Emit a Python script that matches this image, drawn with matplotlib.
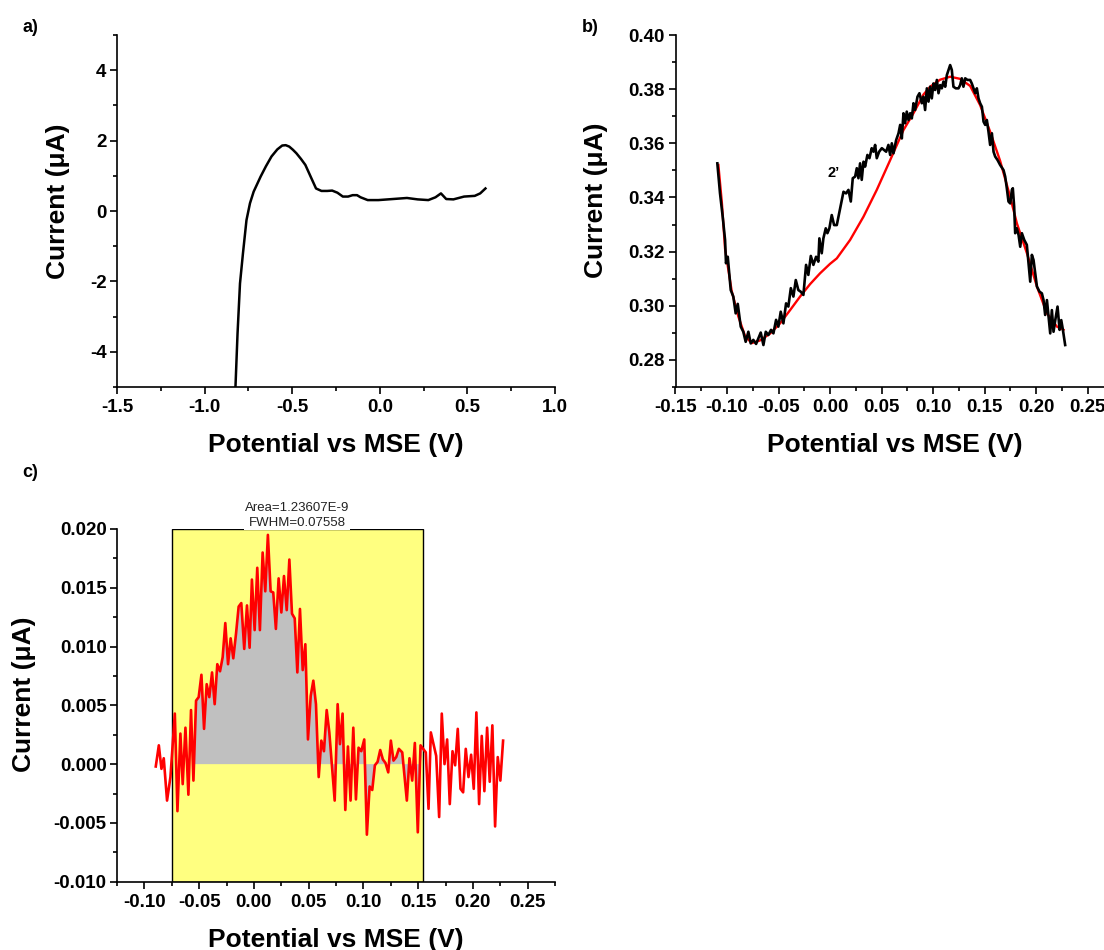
import matplotlib
matplotlib.use("Agg")
import matplotlib.pyplot as plt
from matplotlib.ticker import MultipleLocator, FormatStrFormatter

plt.rcParams['font.family'] = ['Liberation Sans', 'DejaVu Sans']
plt.rcParams['axes.unicode_minus'] = False

# ---------------- data ----------------
# a) full sweep
a_potential = [-0.824, -0.812, -0.798, -0.781, -0.761, -0.741, -0.720, -0.680, -0.650,
               -0.618, -0.585, -0.557, -0.537, -0.517, -0.496, -0.476, -0.450, -0.425,
               -0.395, -0.364, -0.333, -0.300, -0.272, -0.242, -0.211, -0.181, -0.155,
               -0.130, -0.110, -0.069, -0.008, 0.074, 0.155, 0.216, 0.277, 0.318, 0.349,
               0.379, 0.420, 0.481, 0.542, 0.573, 0.603]
a_current = [-5.02, -3.48, -2.06, -1.20, -0.26, 0.22, 0.55, 0.98, 1.27,
             1.55, 1.75, 1.86, 1.87, 1.83, 1.74, 1.64, 1.48, 1.31,
             0.98, 0.64, 0.57, 0.57, 0.58, 0.52, 0.41, 0.41, 0.45,
             0.45, 0.39, 0.31, 0.31, 0.34, 0.37, 0.33, 0.31, 0.39, 0.50,
             0.34, 0.33, 0.41, 0.43, 0.50, 0.64]

# b) measured peak 2' and its baseline fit
b_potential = [-0.1094, -0.1068, -0.1042, -0.1019, -0.1010, -0.0993, -0.0964, -0.0939,
               -0.0916, -0.0896, -0.0867, -0.0842, -0.0819, -0.0793, -0.0770, -0.0745,
               -0.0718, -0.0696, -0.0673, -0.0647, -0.0624, -0.0599, -0.0573, -0.0550,
               -0.0524, -0.0502, -0.0479, -0.0453, -0.0427, -0.0405, -0.0381, -0.0356,
               -0.0333, -0.0308, -0.0285, -0.0259, -0.0233, -0.0211, -0.0187, -0.0162,
               -0.0136, -0.0114, -0.0104,
               -0.0081, -0.0065, -0.0042, -0.0026, -0.0007, 0.0016, 0.0039, 0.0065,
               0.0091, 0.0113, 0.0130, 0.0155, 0.0178, 0.0201, 0.0220, 0.0243, 0.0259,
               0.0275, 0.0291, 0.0307, 0.0324, 0.0340, 0.0362, 0.0382, 0.0404, 0.0421,
               0.0437, 0.0453, 0.0476, 0.0502, 0.0524, 0.0544, 0.0566, 0.0583, 0.0599,
               0.0615, 0.0641, 0.0664, 0.0680, 0.0696, 0.0712, 0.0728, 0.0744, 0.0761,
               0.0777, 0.0793, 0.0809, 0.0825, 0.0848, 0.0867,
               0.0890, 0.0906, 0.0922, 0.0939, 0.0955, 0.0971, 0.0987, 0.1003, 0.1019,
               0.1036, 0.1052, 0.1068, 0.1084, 0.1100, 0.1117, 0.1133, 0.1149, 0.1165,
               0.1181, 0.1197, 0.1220, 0.1246, 0.1262, 0.1278, 0.1294, 0.1311, 0.1333,
               0.1359, 0.1375, 0.1392, 0.1408, 0.1424, 0.1440, 0.1456, 0.1473, 0.1489,
               0.1505, 0.1521, 0.1537, 0.1553, 0.1570, 0.1586, 0.1602, 0.1625, 0.1650,
               0.1683, 0.1699, 0.1715, 0.1731,
               0.1748, 0.1764, 0.1773, 0.1786, 0.1796, 0.1812, 0.1829, 0.1845, 0.1861,
               0.1884, 0.1909, 0.1926, 0.1942, 0.1958, 0.1974, 0.1990, 0.2007, 0.2032,
               0.2055, 0.2071, 0.2087, 0.2104, 0.2120, 0.2136, 0.2152, 0.2168, 0.2185,
               0.2207, 0.2227, 0.2243, 0.2259, 0.2281]
b_current = [0.3526, 0.3415, 0.3329, 0.3243, 0.3157, 0.3181, 0.3058, 0.3034,
             0.2972, 0.3007, 0.2923, 0.2904, 0.2867, 0.2904, 0.2861, 0.2874,
             0.2859, 0.2880, 0.2901, 0.2855, 0.2904, 0.2892, 0.2911, 0.2898,
             0.2948, 0.2923, 0.2978, 0.2935, 0.3009, 0.2997, 0.3065, 0.3034,
             0.3095, 0.3058, 0.3052, 0.3040, 0.3151, 0.3114, 0.3184, 0.3151,
             0.3181, 0.3163, 0.3249,
             0.3194, 0.3249, 0.3286, 0.3268, 0.3286, 0.3335, 0.3298, 0.3298,
             0.3348, 0.3391, 0.3421, 0.3415, 0.3428, 0.3385, 0.3471, 0.3477, 0.3508,
             0.3471, 0.3526, 0.3465, 0.3532, 0.3514, 0.3557, 0.3545, 0.3582, 0.3569,
             0.3594, 0.3545, 0.3569, 0.3582, 0.3575, 0.3569, 0.3594, 0.3557, 0.3600,
             0.3563, 0.3612, 0.3637, 0.3668, 0.3618, 0.3711, 0.3674, 0.3717, 0.3686,
             0.3711, 0.3692, 0.3748, 0.3723, 0.3772, 0.3785,
             0.3748, 0.3772, 0.3723, 0.3803, 0.3754, 0.3809, 0.3766, 0.3821, 0.3797,
             0.3834, 0.3785, 0.3815, 0.3803, 0.3828, 0.3809, 0.3852, 0.3871, 0.3889,
             0.3871, 0.3809, 0.3803, 0.3803, 0.3815, 0.3840, 0.3809, 0.3840, 0.3834,
             0.3834, 0.3821, 0.3803, 0.3785, 0.3803, 0.3766, 0.3748, 0.3735, 0.3680,
             0.3668, 0.3686, 0.3643, 0.3594, 0.3637, 0.3569, 0.3551, 0.3538, 0.3520,
             0.3501, 0.3477, 0.3434, 0.3385,
             0.3378, 0.3428, 0.3434, 0.3366, 0.3268, 0.3286, 0.3261, 0.3218, 0.3268,
             0.3243, 0.3225, 0.3157, 0.3089, 0.3188, 0.3169, 0.3120, 0.3071, 0.3052,
             0.3046, 0.3021, 0.2966, 0.3021, 0.2960, 0.2898, 0.2984, 0.2904, 0.2947,
             0.2997, 0.2911, 0.2947, 0.2911, 0.2855]

fit_potential = [-0.1084, -0.1050, -0.1019, -0.0955, -0.0890, -0.0825, -0.0760, -0.0680,
                 -0.0583, -0.0485, -0.0388, -0.0291, -0.0194, -0.0097, 0.0000, 0.0065,
                 0.0194, 0.0324, 0.0453, 0.0583, 0.0712, 0.0809, 0.0906, 0.0971, 0.1068,
                 0.1165, 0.1262, 0.1359, 0.1456, 0.1553, 0.1650, 0.1747, 0.1812, 0.1910,
                 0.2007, 0.2104, 0.2201, 0.2265]
fit_current = [0.3520, 0.3380, 0.3210, 0.3055, 0.2960, 0.2888, 0.2862, 0.2872,
               0.2897, 0.2935, 0.2984, 0.3034, 0.3080, 0.3120, 0.3155, 0.3175,
               0.3243, 0.3329, 0.3428, 0.3538, 0.3649, 0.3711, 0.3780, 0.3809, 0.3835,
               0.3846, 0.3838, 0.3812, 0.3741, 0.3643, 0.3535, 0.3403, 0.3305, 0.3194,
               0.3071, 0.2972, 0.2923, 0.2911]

# c) baseline-subtracted peak
c_potential = [-0.0896, -0.0868, -0.0844, -0.0823, -0.0793, -0.0762, -0.0722, -0.0698, -0.0671, -0.0650,
               -0.0625, -0.0598, -0.0574, -0.0552, -0.0528, -0.0504, -0.0479, -0.0455, -0.0431, -0.0407,
               -0.0382, -0.0358, -0.0334, -0.0309, -0.0285, -0.0261, -0.0236, -0.0212, -0.0188, -0.0163,
               -0.0139, -0.0115, -0.0088, -0.0063, -0.0039, -0.0018, 0.0007, 0.0031, 0.0055, 0.0080,
               0.0104, 0.0128, 0.0153, 0.0177, 0.0201, 0.0226, 0.0251, 0.0275, 0.0300, 0.0324,
               0.0348, 0.0373, 0.0397, 0.0421, 0.0446, 0.0470, 0.0494, 0.0519, 0.0543, 0.0567,
               0.0592, 0.0616, 0.0640, 0.0665, 0.0689, 0.0738, 0.0765, 0.0786, 0.0810, 0.0835,
               0.0859, 0.0883, 0.0908, 0.0932, 0.0956, 0.0981, 0.1008, 0.1032, 0.1057, 0.1081,
               0.1105, 0.1130, 0.1154, 0.1178, 0.1202, 0.1227, 0.1251, 0.1275, 0.1300, 0.1324,
               0.1355, 0.1376, 0.1397, 0.1421, 0.1446, 0.1470, 0.1497, 0.1522, 0.1546, 0.1570,
               0.1595, 0.1616, 0.1640, 0.1665, 0.1692, 0.1716, 0.1741, 0.1765, 0.1789, 0.1814,
               0.1838, 0.1862, 0.1887, 0.1911, 0.1935, 0.1960, 0.1984, 0.2008, 0.2032, 0.2057,
               0.2081, 0.2105, 0.2130, 0.2154, 0.2178, 0.2203, 0.2227, 0.2251, 0.2276]
c_current = [-0.0002, 0.0016, -0.0004, 0.0005, -0.0031, -0.0011, 0.0043, -0.0040, 0.0026, -0.0017,
             0.0031, -0.0026, 0.0046, -0.0014, 0.0054, 0.0057, 0.0076, 0.0030, 0.0068, 0.0057,
             0.0078, 0.0051, 0.0085, 0.0079, 0.0091, 0.0120, 0.0085, 0.0107, 0.0090, 0.0111,
             0.0134, 0.0137, 0.0098, 0.0135, 0.0099, 0.0157, 0.0114, 0.0167, 0.0114, 0.0180,
             0.0147, 0.0195, 0.0147, 0.0146, 0.0115, 0.0158, 0.0129, 0.0160, 0.0131, 0.0174,
             0.0128, 0.0124, 0.0078, 0.0132, 0.0080, 0.0102, 0.0021, 0.0058, 0.0071, 0.0051,
             -0.0011, 0.0020, 0.0011, 0.0046, 0.0027, -0.0031, 0.0051, 0.0017, 0.0043, -0.0039,
             0.0015, -0.0031, 0.0031, -0.0030, 0.0014, 0.0011, 0.0021, -0.0060, -0.0019, -0.0022,
             -0.0001, 0.0002, 0.0012, 0.0004, 0.0001, -0.0007, 0.0020, 0.0003, 0.0006, 0.0013,
             0.0010, -0.0011, -0.0031, 0.0005, -0.0014, 0.0018, -0.0058, 0.0016, 0.0013, 0.0010,
             -0.0038, 0.0027, 0.0017, 0.0007, -0.0045, 0.0043, 0.0000, 0.0021, -0.0034, 0.0011,
             -0.0001, 0.0030, -0.0021, -0.0024, 0.0013, -0.0011, 0.0008, -0.0021, 0.0044, -0.0034,
             0.0024, -0.0023, 0.0031, -0.0015, 0.0033, -0.0053, 0.0006, -0.0014, 0.0020]

window = (-0.075, 0.154)        # integration window
integrate_from = -0.0547         # start of integrated area
area_text = "Area=1.23607E-9\nFWHM=0.07558"

xlabel = "Potential vs MSE (V)"
ylabel = "Current (\u03bcA)"

# ---------------- figure ----------------
W, H = 1104, 950
fig = plt.figure(figsize=(W / 100, H / 100), dpi=100)


def px_axes(left, top, width, height):
    return fig.add_axes([left / W, 1 - (top + height) / H, width / W, height / H])


def style(ax, xmaj, xmin, ymaj, ymin, xfmt, yfmt):
    for s in ("top", "right"):
        ax.spines[s].set_visible(False)
    for s in ("left", "bottom"):
        ax.spines[s].set_linewidth(1.2)
    ax.xaxis.set_major_locator(MultipleLocator(xmaj))
    ax.xaxis.set_minor_locator(MultipleLocator(xmin))
    ax.yaxis.set_major_locator(MultipleLocator(ymaj))
    ax.yaxis.set_minor_locator(MultipleLocator(ymin))
    ax.xaxis.set_major_formatter(FormatStrFormatter(xfmt))
    ax.yaxis.set_major_formatter(FormatStrFormatter(yfmt))
    ax.tick_params(which="both", direction="out", width=1.2)
    ax.tick_params(which="major", length=5)
    ax.tick_params(which="minor", length=3)
    ax.tick_params(axis="x", which="major", pad=4)
    ax.tick_params(axis="y", which="major", pad=2.5)
    for lab in ax.get_xticklabels() + ax.get_yticklabels():
        lab.set_fontsize(13.5)
        lab.set_fontweight("bold")
    ax.set_xlabel(xlabel, fontsize=19, fontweight="bold")
    ax.set_ylabel(ylabel, fontsize=19, fontweight="bold")


# a)
ax_a = px_axes(117, 35, 438, 352)
ax_a.plot(a_potential, a_current, color="black", lw=1.8, solid_joinstyle="round")
ax_a.set_xlim(-1.5, 1.0)
ax_a.set_ylim(-5, 5)
style(ax_a, 0.5, 0.25, 2, 1, "%.1f", "%d")
ax_a.xaxis.set_label_coords(0.5, -0.132)
ax_a.yaxis.set_label_coords(-0.107, 0.528)

# b)
ax_b = px_axes(675.5, 35, 438, 352)
ax_b.plot(fit_potential, fit_current, color="#FF0000", lw=1.7)
ax_b.plot(b_potential, b_current, color="black", lw=1.9, solid_joinstyle="round")
ax_b.set_xlim(-0.15, 0.275)
ax_b.set_ylim(0.27, 0.40)
style(ax_b, 0.05, 0.025, 0.02, 0.01, "%.2f", "%.2f")
ax_b.xaxis.set_label_coords(0.501, -0.132)
ax_b.yaxis.set_label_coords(-0.153, 0.53)
ax_b.text(0.0039, 0.349, "2\u2019", fontsize=10.5, fontweight="bold",
          ha="center", va="center")

# c)
ax_c = px_axes(117, 529, 438, 352.7)
ax_c.axvspan(window[0], window[1], facecolor="#FFFF80", edgecolor="black",
             lw=1.0, zorder=0)
sel = [p >= integrate_from and p <= window[1] for p in c_potential]
ax_c.fill_between(c_potential, c_current, 0, where=sel, interpolate=True,
                  facecolor="#C0C0C0", edgecolor="none", zorder=1)
ax_c.plot(c_potential, c_current, color="#FF0000", lw=1.9, zorder=3,
          solid_joinstyle="round")
ax_c.set_xlim(-0.125, 0.275)
ax_c.set_ylim(-0.010, 0.020)
style(ax_c, 0.05, 0.025, 0.005, 0.0025, "%.2f", "%.3f")
ax_c.xaxis.set_label_coords(0.5, -0.13)
ax_c.yaxis.set_label_coords(-0.185, 0.532)
ax_c.text(sum(window) / 2, 0.0200, area_text, fontsize=9.5, color="#222222",
          ha="center", va="bottom", linespacing=1.35, clip_on=False,
          bbox=dict(facecolor="white", edgecolor="none", pad=0.5), zorder=5)

# panel letters
for letter, (x, y) in {"a)": (30, 27), "b)": (590, 27), "c)": (30, 472)}.items():
    fig.text(x / W, 1 - y / H, letter, fontsize=13, fontweight="bold",
             ha="center", va="center")

fig.savefig("out.png", dpi=100)
